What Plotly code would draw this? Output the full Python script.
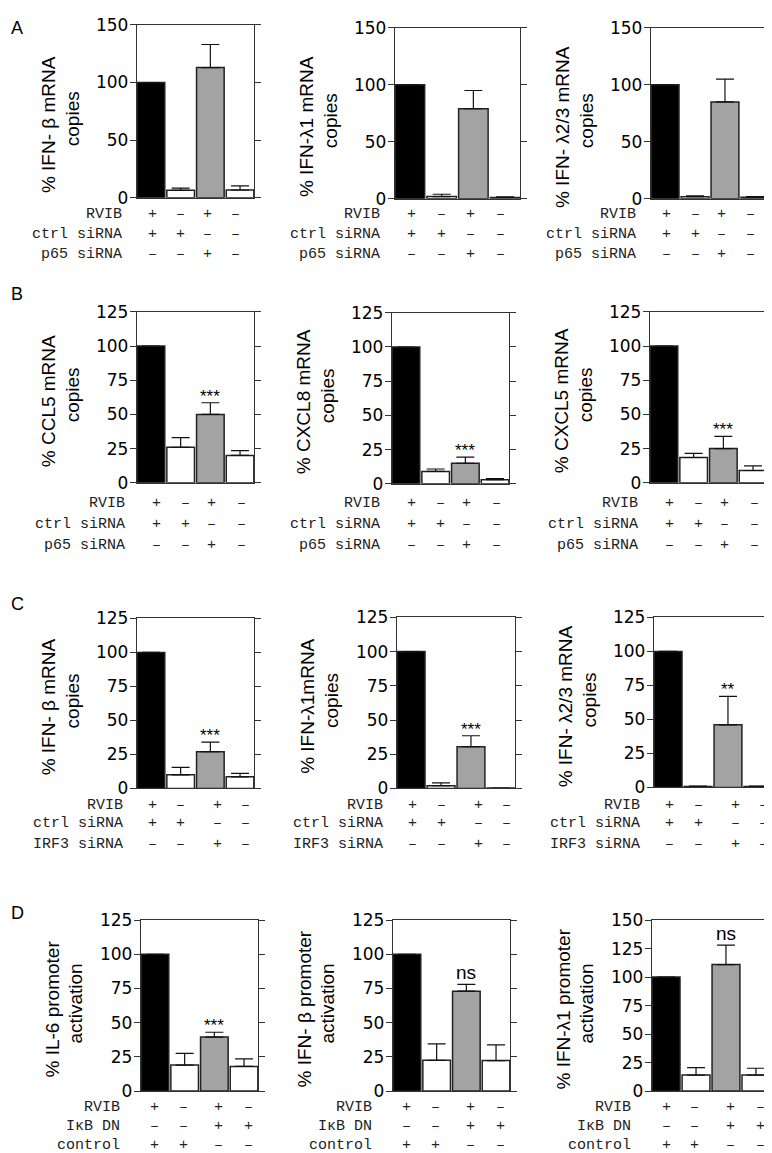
import plotly.graph_objects as go

W, H = 772, 1153

# ---------------- data ----------------
bar_positions = [0, 1, 2, 3]
bar_colors = ["#000000", "#ffffff", "#a3a3a3", "#ffffff"]

a1_ifnb = [100, 6.5, 113, 6.8]
a1_err = [0, 2, 20, 3.5]
a2_ifnl1 = [100, 2, 79, 1.2]
a2_err = [0, 2, 16, 0.5]
a3_ifnl23 = [100, 1.8, 85, 1.3]
a3_err = [0, 0.8, 20, 0.6]

b1_ccl5 = [100, 26, 50, 20]
b1_err = [0, 7, 8.5, 3.5]
b2_cxcl8 = [100, 9, 15, 3]
b2_err = [0, 1.8, 4.5, 0.8]
b3_cxcl5 = [100, 18.5, 25, 9]
b3_err = [0, 3, 9, 3.3]

c1_ifnb = [100, 10, 27, 8.5]
c1_err = [0, 5.5, 7, 2.5]
c2_ifnl1 = [100, 2, 30.5, 0.3]
c2_err = [0, 2, 8, 0]
c3_ifnl23 = [100, 0.7, 46, 0.7]
c3_err = [0, 0.2, 21, 0.2]

d1_il6 = [100, 19, 39.5, 18]
d1_err = [0, 8.5, 3.5, 5.5]
d2_ifnb = [100, 22.5, 73, 22.3]
d2_err = [0, 12, 5, 11.5]
d3_ifnl1 = [100, 14, 111, 14]
d3_err = [0, 6.5, 17, 6]

rows_ab = ["RVIB", "ctrl siRNA", "p65 siRNA"]
rows_c = ["RVIB", "ctrl siRNA", "IRF3 siRNA"]
rows_d = ["RVIB", "I\u03baB DN", "control"]
signs_abc = [["+", "\u2013", "+", "\u2013"],
             ["+", "+", "\u2013", "\u2013"],
             ["\u2013", "\u2013", "+", "\u2013"]]
signs_d = [["+", "\u2013", "+", "\u2013"],
           ["\u2013", "\u2013", "+", "+"],
           ["+", "+", "\u2013", "\u2013"]]

# panel: values, errors, title line1, title line2, ymax, dtick, significance
panels = [
    (a1_ifnb, a1_err, "% IFN- \u03b2 mRNA", "copies", 150, 50, ""),
    (a2_ifnl1, a2_err, "% IFN-\u03bb1 mRNA", "copies", 150, 50, ""),
    (a3_ifnl23, a3_err, "% IFN- \u03bb2/3 mRNA", "copies", 150, 50, ""),
    (b1_ccl5, b1_err, "% CCL5 mRNA", "copies", 125, 25, "***"),
    (b2_cxcl8, b2_err, "% CXCL8 mRNA", "copies", 125, 25, "***"),
    (b3_cxcl5, b3_err, "% CXCL5 mRNA", "copies", 125, 25, "***"),
    (c1_ifnb, c1_err, "% IFN- \u03b2 mRNA", "copies", 125, 25, "***"),
    (c2_ifnl1, c2_err, "% IFN-\u03bb1mRNA", "copies", 125, 25, "***"),
    (c3_ifnl23, c3_err, "% IFN- \u03bb2/3 mRNA", "copies", 125, 25, "**"),
    (d1_il6, d1_err, "% IL-6 promoter", "activation", 125, 25, "***"),
    (d2_ifnb, d2_err, "% IFN- \u03b2 promoter", "activation", 125, 25, "ns"),
    (d3_ifnl1, d3_err, "% IFN-\u03bb1 promoter", "activation", 150, 25, "ns"),
]

# ---------------- layout geometry (pixels) ----------------
boxes = [
    (129, 246, 7, 183), (387, 512, 10, 184), (643, 761, 10, 184),
    (129, 246, 299, 473), (384, 501, 300, 474), (642, 759, 299, 473),
    (129, 246, 611, 784), (389, 507, 610, 784), (646, 764, 610, 783),
    (133, 250, 918, 1092), (385, 502, 918, 1092), (644, 762, 918, 1092),
]
group_rows = [rows_ab, rows_ab, rows_c, rows_d]
group_signs = [signs_abc, signs_abc, signs_abc, signs_d]
group_row_y = [[200, 220, 241], [494, 515, 537], [801, 820, 841], [1109, 1128, 1147]]
group_cols = [[0.05, 1.0, 1.9, 2.85], [0.2, 1.15, 2.05, 3.05],
              [0.05, 1.0, 2.25, 3.2], [0.0, 0.95, 2.15, 3.15]]
group_label_off = [13, 10, 12, 19]
group_title_dy = [10, 0, 0, 0]
letters = [("A", 9, 10), ("B", 9, 281), ("C", 9, 596), ("D", 9, 911)]


def px(x):
    return x / W


def py(y):
    return 1 - y / H


AXCOL = "#333333"
fig = go.Figure()
annotations = []
layout = dict(
    width=W, height=H, margin=dict(l=0, r=0, t=0, b=0),
    paper_bgcolor="white", plot_bgcolor="white", showlegend=False,
    bargap=0.07,
)

for i, (vals, errs, t1, t2, ymax, dt, sig) in enumerate(panels):
    n = i + 1
    g = i // 3
    x0, x1, y0, y1 = boxes[i]
    xa = "x" if n == 1 else f"x{n}"
    ya = "y" if n == 1 else f"y{n}"
    fig.add_trace(go.Bar(
        x=bar_positions, y=vals, xaxis=xa, yaxis=ya,
        marker=dict(color=bar_colors, line=dict(color="#222222", width=1.5)),
        error_y=dict(type="data", symmetric=False, array=errs,
                     arrayminus=[0] * len(errs), color="#111111",
                     thickness=1.2, width=9),
        hoverinfo="skip",
    ))
    layout["xaxis" if n == 1 else f"xaxis{n}"] = dict(
        domain=[px(x0), px(x1)], range=[-0.47, 3.47], anchor=ya,
        showline=True, linecolor=AXCOL, linewidth=1.3, mirror=True,
        showticklabels=False, ticks="", showgrid=False, zeroline=False,
        fixedrange=True,
    )
    layout["yaxis" if n == 1 else f"yaxis{n}"] = dict(
        domain=[py(y1), py(y0)], range=[0, ymax], anchor=xa,
        tickmode="linear", tick0=0, dtick=dt,
        showline=True, linecolor=AXCOL, linewidth=1.3, mirror="ticks",
        ticks="outside", ticklen=6, tickwidth=1.3, tickcolor=AXCOL,
        ticklabelstandoff=-2,
        tickfont=dict(family="DejaVu Sans", size=17, color="black"),
        showgrid=False, zeroline=False, fixedrange=True,
    )
    # y-axis titles (two lines)
    cy = (y0 + y1) / 2 + group_title_dy[g]
    annotations.append(dict(
        text=t1, textangle=-90, xref="paper", yref="paper",
        x=px(x0 - 89), y=py(cy + 4), xanchor="center", yanchor="middle",
        showarrow=False, font=dict(family="Liberation Sans", size=19, color="black"),
    ))
    annotations.append(dict(
        text=t2, textangle=-90, xref="paper", yref="paper",
        x=px(x0 - 65), y=py(cy - 2), xanchor="center", yanchor="middle",
        showarrow=False, font=dict(family="Liberation Sans", size=19, color="black"),
    ))
    # significance
    if sig:
        is_star = "*" in sig
        annotations.append(dict(
            text=sig, xref=xa, yref=ya, x=bar_positions[2],
            y=vals[2] + errs[2], xanchor="center", yanchor="bottom",
            yshift=-5 if is_star else -1, showarrow=False,
            font=dict(family="Liberation Sans", size=17 if is_star else 19, color="black"),
        ))
    # table below
    for r, lab in enumerate(group_rows[g]):
        ry = group_row_y[g][r]
        annotations.append(dict(
            text=lab, xref="paper", yref="paper", x=px(x0 - group_label_off[g]),
            y=py(ry), xanchor="right", yanchor="middle", showarrow=False,
            font=dict(family="Liberation Mono", size=15, color="#222222"),
        ))
        for c, s in enumerate(group_signs[g][r]):
            annotations.append(dict(
                text=s, xref=xa, yref="paper", x=group_cols[g][c],
                y=py(ry), xanchor="center", yanchor="middle", showarrow=False,
                font=dict(family="Liberation Mono", size=15, color="#222222"),
            ))

for (L, lx, ly) in letters:
    annotations.append(dict(
        text=L, xref="paper", yref="paper", x=px(lx), y=py(ly),
        xanchor="center", yanchor="middle", showarrow=False,
        font=dict(family="Liberation Sans", size=18, color="black"),
    ))

layout["annotations"] = annotations
fig.update_layout(**layout)
fig.write_html("out.html")
